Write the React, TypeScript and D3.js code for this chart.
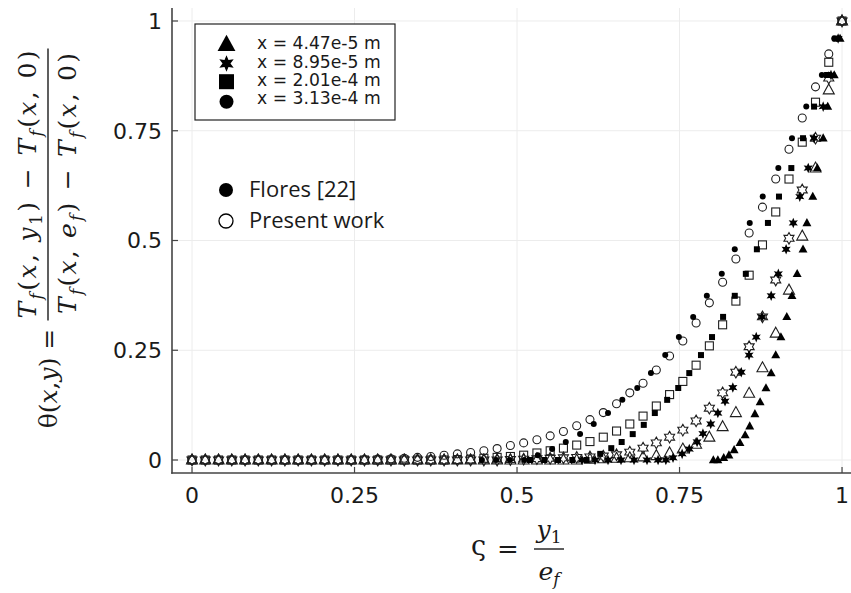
import React from 'react';
import * as d3 from 'd3';

// ---------- data ----------
const ZETA = [0, 0.0204, 0.0408, 0.0612, 0.0816, 0.102, 0.1224, 0.1429, 0.1633, 0.1837, 0.2041, 0.2245, 0.2449, 0.2653, 0.2857, 0.3061, 0.3265, 0.3469, 0.3673, 0.3878, 0.4082, 0.4286, 0.449, 0.4694, 0.4898, 0.5102, 0.5306, 0.551, 0.5714, 0.5918, 0.6122, 0.6327, 0.6531, 0.6735, 0.6939, 0.7143, 0.7347, 0.7551, 0.7755, 0.7959, 0.8163, 0.8367, 0.8571, 0.8776, 0.898, 0.9184, 0.9388, 0.9592, 0.9796, 1];

// Present work (open markers)
const PW_TRI = [0,0,0,0,0,0,0,0,0,0, 0,0,0,0,0,0,0,0,0,0, 0,0,0,0,0,0,0,0,0,0, 0.002,0.003,0.004,0.005,0.007,0.01,0.016,0.025,0.036,0.052, 0.076,0.108,0.152,0.21,0.289,0.387,0.51,0.665,0.843,1];
const PW_STAR = [0,0,0,0,0,0,0,0,0,0, 0,0,0,0,0,0,0,0,0,0, 0,0,0,0,0.001,0.002,0.003,0.004,0.005,0.006, 0.007,0.009,0.012,0.018,0.027,0.039,0.052,0.068,0.089,0.118, 0.153,0.2,0.258,0.326,0.41,0.505,0.615,0.733,0.87,1];
const PW_SQ = [0,0,0,0,0,0,0,0,0,0, 0,0,0,0,0,0,0,0,0,0, 0.001,0.002,0.004,0.006,0.008,0.011,0.016,0.021,0.027,0.034, 0.042,0.052,0.066,0.082,0.1,0.123,0.149,0.179,0.216,0.26, 0.308,0.362,0.421,0.49,0.565,0.64,0.724,0.815,0.906,1];
const PW_CIR = [0,0,0,0,0,0,0,0,0,0, 0,0,0,0.001,0.002,0.003,0.004,0.006,0.008,0.011, 0.014,0.017,0.021,0.026,0.033,0.039,0.046,0.055,0.065,0.078, 0.092,0.108,0.128,0.153,0.175,0.205,0.237,0.271,0.312,0.358, 0.405,0.458,0.517,0.576,0.64,0.708,0.779,0.85,0.925,1];

// Flores [22] (filled markers)
const FL_TRI_Z = [0.802, 0.809, 0.818, 0.826, 0.834, 0.843, 0.851, 0.858, 0.866, 0.874, 0.883, 0.891, 0.898, 0.906, 0.915, 0.923, 0.931, 0.94, 0.946, 0.955, 0.962, 0.971, 0.978, 0.988, 0.997];
const FL_TRI_T = [0, 0, 0.005, 0.011, 0.023, 0.039, 0.057, 0.077, 0.105, 0.132, 0.164, 0.198, 0.239, 0.28, 0.326, 0.374, 0.424, 0.48, 0.54, 0.6, 0.665, 0.733, 0.805, 0.877, 0.96];
const FL_STAR_Z = [0.6, 0.62, 0.64, 0.66, 0.68, 0.7, 0.717, 0.729, 0.74, 0.754, 0.765, 0.777, 0.786, 0.798, 0.809, 0.82, 0.832, 0.845, 0.857, 0.868, 0.877, 0.891, 0.902, 0.914, 0.925, 0.935, 0.948, 0.957, 0.971, 0.983, 0.994];
const FL_STAR_T = [0, 0, 0, 0, 0, 0, 0, 0, 0.005, 0.014, 0.025, 0.041, 0.06, 0.082, 0.107, 0.134, 0.165, 0.2, 0.239, 0.28, 0.326, 0.374, 0.424, 0.48, 0.54, 0.6, 0.665, 0.733, 0.805, 0.877, 0.96];
const FL_SQ_Z = [0.52, 0.542, 0.563, 0.585, 0.607, 0.628, 0.645, 0.661, 0.678, 0.695, 0.712, 0.731, 0.748, 0.765, 0.783, 0.8, 0.817, 0.835, 0.852, 0.869, 0.886, 0.903, 0.922, 0.94, 0.957, 0.977, 0.99];
const FL_SQ_T = [0, 0, 0, 0, 0, 0.014, 0.027, 0.041, 0.059, 0.08, 0.107, 0.137, 0.164, 0.198, 0.239, 0.28, 0.326, 0.374, 0.424, 0.48, 0.54, 0.6, 0.665, 0.733, 0.805, 0.877, 0.96];
const FL_CIR_Z = [0.446, 0.468, 0.489, 0.511, 0.532, 0.554, 0.575, 0.597, 0.618, 0.64, 0.662, 0.685, 0.706, 0.728, 0.749, 0.771, 0.792, 0.815, 0.835, 0.858, 0.878, 0.902, 0.923, 0.945, 0.969, 0.988];
const FL_CIR_T = [0, 0, 0, 0, 0.011, 0.025, 0.041, 0.059, 0.082, 0.107, 0.137, 0.164, 0.198, 0.239, 0.28, 0.326, 0.374, 0.424, 0.48, 0.54, 0.6, 0.665, 0.733, 0.805, 0.877, 0.96];

const X_TICKS = [0, 0.25, 0.5, 0.75, 1];
const X_TICK_LABELS = ['0', '0.25', '0.5', '0.75', '1'];
const Y_TICKS = [0, 0.25, 0.5, 0.75, 1];
const Y_TICK_LABELS = ['0', '0.25', '0.5', '0.75', '1'];

const SERIES_LABELS = ['x = 4.47e-5 m', 'x = 8.95e-5 m', 'x = 2.01e-4 m', 'x = 3.13e-4 m'];
const SHAPES = ['triangle', 'star', 'square', 'circle'];
const SOURCE_LABELS = ['Flores [22]', 'Present work'];

// ---------- helpers ----------
function starPath(R: number, r: number) {
  const pts: string[] = [];
  for (let k = 0; k < 12; k++) {
    const a = (-90 + k * 30) * Math.PI / 180;
    const rad = k % 2 === 0 ? R : r;
    pts.push(`${(rad * Math.cos(a)).toFixed(2)},${(rad * Math.sin(a)).toFixed(2)}`);
  }
  return 'M' + pts.join('L') + 'Z';
}
function triPath(w: number, h: number) {
  return `M0,${-h * 0.6}L${w / 2},${h * 0.4}L${-w / 2},${h * 0.4}Z`;
}

function Marker({ shape, x, y, s, filled }: { shape: string; x: number; y: number; s: number; filled: boolean }) {
  const fill = filled ? '#000' : 'none';
  const stroke = filled ? 'none' : '#1e1e1e';
  const sw = filled ? 0 : 1.1;
  if (shape === 'circle') return <circle cx={x} cy={y} r={s / 2} fill={fill} stroke={stroke} strokeWidth={sw} />;
  if (shape === 'square') return <rect x={x - s / 2} y={y - s / 2} width={s} height={s} fill={fill} stroke={stroke} strokeWidth={sw} />;
  if (shape === 'triangle') return <path transform={`translate(${x},${y})`} d={triPath(s * 1.05, s * 0.95)} fill={fill} stroke={stroke} strokeWidth={sw} strokeLinejoin="miter" />;
  const R = s / 2 + 0.8;
  return <path transform={`translate(${x},${y})`} d={starPath(R, filled ? R * 0.48 : R / Math.sqrt(3))} fill={fill} stroke={stroke} strokeWidth={sw} />;
}

export default function App() {
  const W = 851, H = 593;
  const x = d3.scaleLinear().domain([-0.0308, 1.0138]).range([172, 851]);
  const y = d3.scaleLinear().domain([-0.0296, 1.0296]).range([473, 8]);
  const left = x.range()[0], right = x.range()[1];
  const bottom = y.range()[0], top = y.range()[1];

  const openSeries = [PW_TRI, PW_STAR, PW_SQ, PW_CIR];
  const openSize = [10.5, 10, 8, 8];
  const floresZ = [FL_TRI_Z, FL_STAR_Z, FL_SQ_Z, FL_CIR_Z];
  const floresT = [FL_TRI_T, FL_STAR_T, FL_SQ_T, FL_CIR_T];
  const filledSize = [8.5, 9, 6, 6];

  const subF = 17;
  return (
    <svg width={W} height={H} style={{ position: 'absolute', left: 0, top: 0, background: '#fff' }}>
      <rect width={W} height={H} fill="#fff" />
      {/* grid */}
      {X_TICKS.map((t) => (
        <line key={'gx' + t} x1={x(t)} x2={x(t)} y1={top} y2={bottom} stroke="#ececec" strokeWidth={1} />
      ))}
      {Y_TICKS.map((t) => (
        <line key={'gy' + t} x1={left} x2={right} y1={y(t)} y2={y(t)} stroke="#ececec" strokeWidth={1} />
      ))}
      {/* axes */}
      <line x1={left} x2={left} y1={top} y2={bottom + 0.8} stroke="#444" strokeWidth={1.6} />
      <line x1={left - 0.8} x2={right} y1={bottom} y2={bottom} stroke="#444" strokeWidth={1.6} />
      {X_TICKS.map((t, i) => (
        <g key={'xt' + t}>
          <line x1={x(t)} x2={x(t)} y1={bottom} y2={bottom - 6} stroke="#444" strokeWidth={1.2} />
          <text x={x(t)} y={503} textAnchor="middle" fontFamily="DejaVu Sans" fontSize={22} fill="#1a1a1a">{X_TICK_LABELS[i]}</text>
        </g>
      ))}
      {Y_TICKS.map((t, i) => (
        <g key={'yt' + t}>
          <line x1={left} x2={left + 6} y1={y(t)} y2={y(t)} stroke="#444" strokeWidth={1.2} />
          <text x={162} y={y(t)} dy="0.36em" textAnchor="end" fontFamily="DejaVu Sans" fontSize={22} fill="#1a1a1a">{Y_TICK_LABELS[i]}</text>
        </g>
      ))}

      {/* present work (open) */}
      {openSeries.map((ser, si) => (
        <g key={'pw' + si}>
          {ser.map((v, i) => (
            <Marker key={i} shape={SHAPES[si]} x={x(ZETA[i])} y={y(v)} s={openSize[si]} filled={false} />
          ))}
        </g>
      ))}
      {/* Flores (filled) */}
      {floresZ.map((zs, si) => (
        <g key={'fl' + si}>
          {zs.map((z, i) => (
            <Marker key={i} shape={SHAPES[si]} x={x(z)} y={y(floresT[si][i])} s={filledSize[si]} filled={true} />
          ))}
        </g>
      ))}

      {/* legend box */}
      <rect x={195} y={24} width={200} height={96} fill="#fff" stroke="#222" strokeWidth={1.2} />
      {SERIES_LABELS.map((lab, i) => {
        const cy = [44.5, 63.5, 81.7, 101.7][i];
        const s = [17, 15, 15, 14][i];
        return (
          <g key={'lg' + i}>
            <Marker shape={SHAPES[i]} x={226.5} y={cy} s={s} filled={true} />
            <text x={257} y={[49.3, 67.7, 86, 104.3][i]} fontFamily="DejaVu Sans" fontSize={17.2} fill="#1a1a1a">{lab}</text>
          </g>
        );
      })}

      {/* source legend */}
      <circle cx={226} cy={190} r={7} fill="#000" />
      <text x={249} y={197} fontFamily="Open Sans" fontSize={22} fill="#1a1a1a">{SOURCE_LABELS[0]}</text>
      <circle cx={226} cy={221} r={7} fill="none" stroke="#000" strokeWidth={1.3} />
      <text x={249} y={228} fontFamily="Open Sans" fontSize={22} fill="#1a1a1a">{SOURCE_LABELS[1]}</text>

      {/* y label */}
      <g transform="translate(48,184.5) rotate(-90)" fontFamily="DejaVu Serif" fill="#1a1a1a">
        <line x1={-136} x2={136} y1={0} y2={0} stroke="#1a1a1a" strokeWidth={1.4} />
        <text x={0} y={-12} textAnchor="middle" fontSize={25} textLength={268} lengthAdjust="spacing">
          <tspan fontStyle="italic">T</tspan><tspan fontStyle="italic" fontSize={subF} dy={6}>f</tspan><tspan dy={-6}>(</tspan><tspan fontStyle="italic">x</tspan><tspan>{', '}</tspan><tspan fontStyle="italic">y</tspan><tspan fontSize={subF} dy={6}>1</tspan><tspan dy={-6}>{') − '}</tspan><tspan fontStyle="italic">T</tspan><tspan fontStyle="italic" fontSize={subF} dy={6}>f</tspan><tspan dy={-6}>(</tspan><tspan fontStyle="italic">x</tspan><tspan>{', 0)'}</tspan>
        </text>
        <text x={1} y={28} textAnchor="middle" fontSize={25} textLength={261} lengthAdjust="spacing">
          <tspan fontStyle="italic">T</tspan><tspan fontStyle="italic" fontSize={subF} dy={6}>f</tspan><tspan dy={-6}>(</tspan><tspan fontStyle="italic">x</tspan><tspan>{',  '}</tspan><tspan fontStyle="italic">e</tspan><tspan fontStyle="italic" fontSize={subF} dy={6}>f</tspan><tspan dy={-6}>{') − '}</tspan><tspan fontStyle="italic">T</tspan><tspan fontStyle="italic" fontSize={subF} dy={6}>f</tspan><tspan dy={-6}>(</tspan><tspan fontStyle="italic">x</tspan><tspan>{', 0)'}</tspan>
        </text>
        <text x={-194} y={9} textAnchor="middle" fontSize={25}>
          <tspan>θ(</tspan><tspan fontStyle="italic">x</tspan><tspan>,</tspan><tspan fontStyle="italic">y</tspan><tspan>) =</tspan>
        </text>
      </g>

      {/* x label */}
      <g fontFamily="DejaVu Serif" fill="#1a1a1a">
        <text x={471} y={555} fontSize={27}>ς</text>
        <text x={497} y={558} fontSize={26}>=</text>
        <line x1={534} x2={564} y1={549} y2={549} stroke="#1a1a1a" strokeWidth={1.4} />
        <text x={549} y={538} textAnchor="middle" fontSize={25}>
          <tspan fontStyle="italic">y</tspan><tspan fontSize={subF} dy={5}>1</tspan>
        </text>
        <text x={549} y={580} textAnchor="middle" fontSize={25}>
          <tspan fontStyle="italic">e</tspan><tspan fontStyle="italic" fontSize={subF} dy={5}>f</tspan>
        </text>
      </g>
    </svg>
  );
}
